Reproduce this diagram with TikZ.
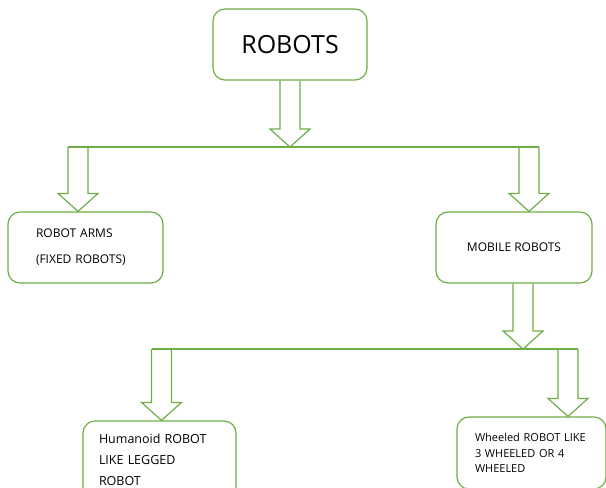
\documentclass[tikz,border=0pt]{standalone}
\usepackage{fontspec}
\setmainfont{Open Sans}
\usetikzlibrary{calc}
\definecolor{boxgreen}{HTML}{70AD47}
% hollow block arrow: shaft from #1, tip at #2
\newcommand{\hollow}[2]{\draw[hollowarrow] ($(#1)+(-10,0)$) -- ($(#2)+(-10,-18)$) -- ($(#2)+(-20,-18)$) -- (#2) -- ($(#2)+(20,-18)$) -- ($(#2)+(10,-18)$) -- ($(#1)+(10,0)$);}
\tikzset{
  box/.style={draw=boxgreen, line width=1.2pt, rounded corners=12pt, align=left},
  hollowarrow/.style={draw=boxgreen, line width=1.2pt, line join=miter},
  branch/.style={draw=boxgreen, line width=1.2pt}
}

\begin{document}
\begin{tikzpicture}[x=1pt, y=-1pt]
\useasboundingbox (0,0) rectangle (606,488);
\node[box, align=center, minimum width=154pt, minimum height=71pt, font=\fontsize{25}{30}\selectfont] (robots) at (290,44.5) {ROBOTS};
\node[box, text width=99pt, inner xsep=28pt, minimum height=71pt, font=\fontsize{12}{26}\selectfont] (arms) at (85.5,247.5) {ROBOT ARMS\\(FIXED ROBOTS)};
\node[box, align=center, minimum width=156pt, minimum height=71pt, font=\fontsize{12}{15}\selectfont] (mobile) at (514,247.5) {MOBILE ROBOTS};
\node[box, text width=121pt, inner xsep=16pt, minimum height=78pt, font=\fontsize{12.5}{21}\selectfont] (humanoid) at (159.5,460) {Humanoid ROBOT\\LIKE LEGGED\\ROBOT};
\node[box, text width=113pt, inner xsep=18pt, minimum height=72pt, font=\fontsize{11}{15.5}\selectfont] (wheeled) at (531.5,453) {Wheeled ROBOT LIKE\\3 WHEELED OR 4\\WHEELED};

% first level
\coordinate (l1) at (78,147);
\coordinate (r1) at (529,147);
\draw[branch] ($(l1)+(-10,0)$) -- ($(r1)+(10,0)$);
\hollow{robots.south}{robots.south |- l1}
\hollow{l1}{l1 |- arms.north}
\hollow{r1}{r1 |- mobile.north}

% second level
\coordinate (m2) at (523,349);
\coordinate (l2) at (161.5,349);
\coordinate (r2) at (568,349);
\draw[branch] ($(l2)+(-10,0)$) -- ($(r2)+(10,0)$);
\hollow{m2 |- mobile.south}{m2}
\hollow{l2}{l2 |- humanoid.north}
\hollow{r2}{r2 |- wheeled.north}
\end{tikzpicture}
\end{document}
